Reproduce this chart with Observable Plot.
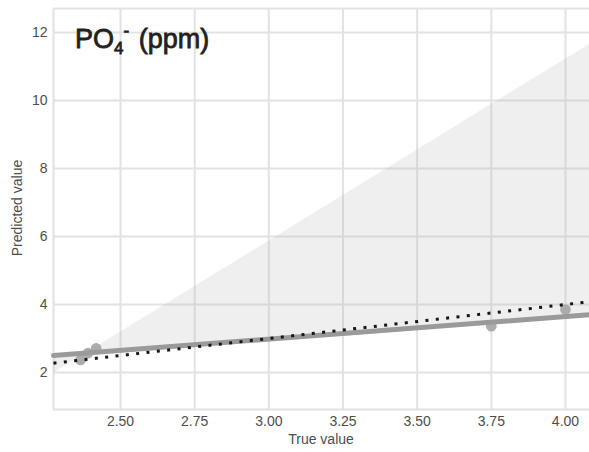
<!DOCTYPE html>
<html>
<head>
<meta charset="utf-8">
<script src="https://cdn.jsdelivr.net/npm/d3@7"></script>
<script src="https://cdn.jsdelivr.net/npm/@observablehq/plot@0.6"></script>
<style>
  html, body { margin: 0; padding: 0; background: #fff; }
  #chart { width: 589px; height: 452px; }
</style>
</head>
<body>
<div id="chart"></div>
<script>
// ---- data ----
const xTicks = [2.5, 2.75, 3.0, 3.25, 3.5, 3.75, 4.0];
const yTicks = [2, 4, 6, 8, 10, 12];
const xDomain = [2.274, 4.081];
const yDomain = [0.912, 12.706];

const trueValues = [2.365, 2.39, 2.418, 3.75, 4.0];
const predictedValues = [2.37, 2.57, 2.71, 3.36, 3.85];

const fitX = [2.274, 4.081];
const fitY = [2.50, 3.70];

const bandX = [2.274, 4.081];
const bandEdgeA = [1.98, 11.65];
const bandEdgeB = [2.42, 3.62];

const identityX = [2.274, 4.081];

const titleMain = "PO";
const titleSub = "4";
const titleSup = "-";
const titleRest = " (ppm)";
const xLabel = "True value";
const yLabel = "Predicted value";

// ---- derived tables ----
const points = trueValues.map((t, i) => ({x: t, y: predictedValues[i]}));
const fit = fitX.map((x, i) => ({x, y: fitY[i]}));
const band = bandX.map((x, i) => ({x, a: bandEdgeA[i], b: bandEdgeB[i]}));
const identity = identityX.map(x => ({x, y: x}));

const font = "'Liberation Sans', Arial, Helvetica, sans-serif";
const gridColor = "#e2e2e2";

const chart = Plot.plot({
  width: 589,
  height: 452,
  marginLeft: 53,
  marginRight: 0,
  marginTop: 8,
  marginBottom: 43,
  style: {fontFamily: font, background: "#fff", overflow: "visible"},
  x: {domain: xDomain, axis: null},
  y: {domain: yDomain, axis: null},
  marks: [
    Plot.gridX(xTicks, {stroke: gridColor, strokeOpacity: 1, strokeWidth: 2}),
    Plot.gridY(yTicks, {stroke: gridColor, strokeOpacity: 1, strokeWidth: 2}),
    Plot.ruleX([xDomain[0]], {stroke: gridColor, strokeWidth: 2}),
    Plot.ruleY([yDomain[0], yDomain[1]], {stroke: gridColor, strokeWidth: 2}),
    Plot.areaY(band, {x: "x", y1: "a", y2: "b", fill: "#b8b8b8", fillOpacity: 0.23}),
    Plot.dot(points, {x: "x", y: "y", r: 5.3, fill: "#acacac", stroke: "none"}),
    Plot.line(fit, {x: "x", y: "y", stroke: "#9a9a9a", strokeWidth: 5}),
    Plot.line(identity, {x: "x", y: "y", stroke: "#1a1414", strokeWidth: 3, strokeDasharray: "3 7.4", strokeLinecap: "butt"}),
    Plot.axisX(xTicks, {tickSize: 0, tickPadding: 7, tickFormat: d3.format(".2f"), fontSize: 14, fill: "#4d4d4d", label: null}),
    Plot.axisY(yTicks, {tickSize: 0, tickPadding: 6, fontSize: 14, fill: "#4d4d4d", label: null})
  ]
});

document.getElementById("chart").appendChild(chart);

const svg = d3.select(chart);
// title
const t = svg.append("text")
  .attr("x", 75).attr("y", 48)
  .attr("text-anchor", "start")
  .style("font-family", font)
  .style("font-size", "27px")
  .attr("fill", "#231f20")
  .attr("stroke", "#231f20")
  .attr("stroke-width", 0.8);
t.append("tspan").text(titleMain);
t.append("tspan").style("font-size", "17px").attr("dy", 6).text(titleSub);
t.append("tspan").style("font-size", "17px").attr("dx", 0).attr("dy", -18).text(titleSup);
t.append("tspan").attr("dy", 12).attr("dx", 2).text(titleRest);

// axis labels
svg.append("text")
  .attr("x", 321).attr("y", 444)
  .attr("text-anchor", "middle")
  .style("font-family", font).style("font-size", "14px")
  .attr("fill", "#4d4d4d")
  .text(xLabel);
svg.append("text")
  .attr("transform", "translate(22,208) rotate(-90)")
  .attr("text-anchor", "middle")
  .style("font-family", font).style("font-size", "14px")
  .attr("fill", "#4d4d4d")
  .text(yLabel);
</script>
</body>
</html>
